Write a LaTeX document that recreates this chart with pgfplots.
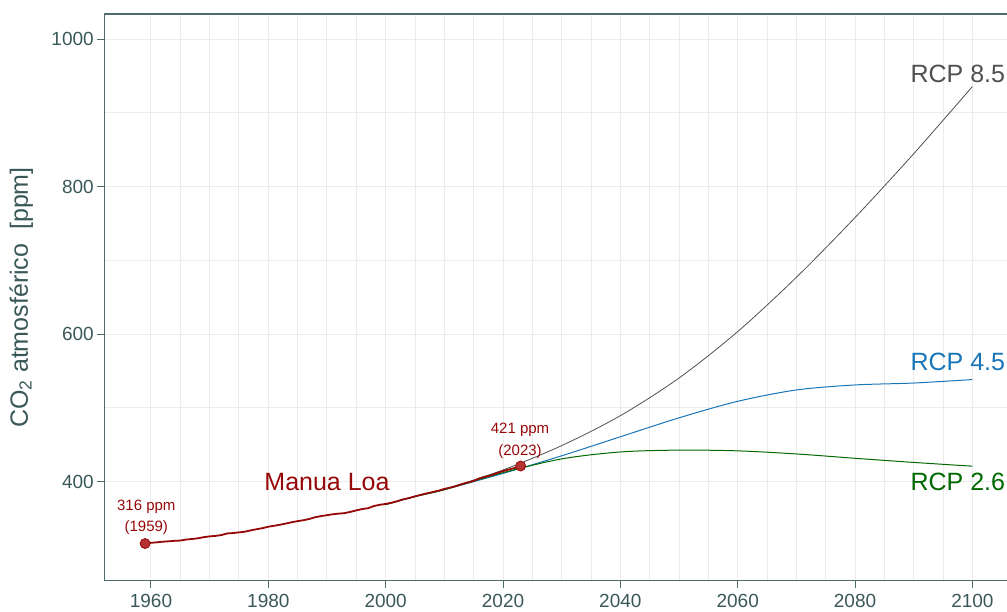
\documentclass[border=0pt]{standalone}
\usepackage{fontspec}
\setmainfont{Liberation Sans}
\usepackage{pgfplots}
\pgfplotsset{compat=1.18}
\definecolor{slate}{RGB}{58,88,88}
\definecolor{spine}{RGB}{78,108,108}
\definecolor{gridc}{RGB}{235,235,235}
\definecolor{mlred}{RGB}{150,8,8}
\definecolor{ptfill}{RGB}{180,50,50}
\definecolor{rcpgray}{RGB}{80,80,80}
\definecolor{rcpblue}{RGB}{24,118,184}
\definecolor{rcpgreen}{RGB}{0,104,0}

\pgfplotstableread{
year co2
1959 315.98
1960 316.91
1961 317.64
1962 318.45
1963 318.99
1964 319.62
1965 320.04
1966 321.37
1967 322.18
1968 323.05
1969 324.62
1970 325.68
1971 326.32
1972 327.46
1973 329.68
1974 330.19
1975 331.13
1976 332.03
1977 333.84
1978 335.41
1979 336.84
1980 338.76
1981 340.12
1982 341.48
1983 343.15
1984 344.87
1985 346.35
1986 347.61
1987 349.31
1988 351.69
1989 353.20
1990 354.45
1991 355.70
1992 356.54
1993 357.21
1994 358.96
1995 360.97
1996 362.74
1997 363.88
1998 366.84
1999 368.54
2000 369.71
2001 371.32
2002 373.45
2003 375.98
2004 377.70
2005 379.98
2006 382.09
2007 384.02
2008 385.83
2009 387.64
2010 390.10
2011 391.85
2012 394.06
2013 396.74
2014 398.81
2015 401.01
2016 404.41
2017 406.76
2018 408.72
2019 411.65
2020 414.21
2021 416.41
2022 418.53
2023 421.08
}\maunaloa

\pgfplotstableread{
year rcp85 rcp45 rcp26
2000 368.9 368.9 368.9
2005 379.8 379.8 379.8
2010 389.3 389.1 389.0
2020 415.8 411.1 412.1
2030 448.8 435.0 430.8
2040 489.4 460.8 440.2
2050 540.5 486.5 442.7
2060 603.5 508.9 441.7
2070 677.1 524.3 437.5
2080 758.2 531.1 431.6
2090 844.8 533.7 426.0
2100 935.9 538.4 420.9
}\rcp

\begin{document}
\begin{tikzpicture}
\begin{axis}[
  scale only axis,
  width=913pt,height=567pt,
  xmin=1952.04,xmax=2107.6,
  ymin=265.4,ymax=1034.3,
  xtick={1960,1980,...,2100},
  ytick={400,600,800,1000},
  minor x tick num=3,
  minor y tick num=1,
  grid=both,
  major grid style={gridc,line width=1pt},
  minor grid style={gridc,line width=1pt},
  axis line style={spine,line width=1.1pt},
  tick pos=left,
  tick align=outside,
  major tick length=7pt,
  minor tick length=0pt,
  major tick style={spine,line width=1pt},
  x tick label style={yshift=-3pt},
  ticklabel style={font=\fontsize{19}{21}\selectfont,text=slate},
  /pgf/number format/1000 sep={},
  /pgf/number format/assume math mode=true,
  ylabel={CO\textsubscript{2} atmosférico\ \ [ppm]},
  ylabel style={at={(axis description cs:-0.0908,0.5)},anchor=center,
    font=\fontsize{25}{28}\selectfont,text=slate},
  clip=false,
]
\addplot[rcpgray,line width=0.8pt,smooth] table[x=year,y=rcp85]{\rcp};
\addplot[rcpblue,line width=1pt,smooth] table[x=year,y=rcp45]{\rcp};
\addplot[rcpgreen,line width=1pt,smooth] table[x=year,y=rcp26]{\rcp};
\addplot[mlred,line width=1.8pt] table[x=year,y=co2]{\maunaloa};
\addplot[only marks,mark=*,mark size=5pt,
  mark options={fill=ptfill,draw=mlred,line width=0.8pt}]
  coordinates {(1959,315.98) (2023,421.08)};

\node[anchor=east,inner sep=0pt,text=rcpgray,font=\fontsize{25}{28}\selectfont] at (axis cs:2105.6,952.6) {RCP 8.5};
\node[anchor=east,inner sep=0pt,text=rcpblue,font=\fontsize{25}{28}\selectfont] at (axis cs:2105.6,562) {RCP 4.5};
\node[anchor=east,inner sep=0pt,text=rcpgreen,font=\fontsize{25}{28}\selectfont] at (axis cs:2105.6,399) {RCP 2.6};
\node[text=mlred,font=\fontsize{25}{28}\selectfont] at (axis cs:1990,399) {Manua Loa};
\node[text=mlred,font=\fontsize{15}{17}\selectfont] at (axis cs:1959.2,365.2) {316 ppm};
\node[text=mlred,font=\fontsize{15}{17}\selectfont] at (axis cs:1959.2,338) {(1959)};
\node[text=mlred,font=\fontsize{15}{17}\selectfont] at (axis cs:2022.9,470.8) {421 ppm};
\node[text=mlred,font=\fontsize{15}{17}\selectfont] at (axis cs:2022.9,441) {(2023)};
\end{axis}
\pgfresetboundingbox
\path[use as bounding box] ([xshift=-104.3pt,yshift=-30.3pt]current axis.south west)
  rectangle ([xshift=903pt,yshift=14pt]current axis.north west);
\end{tikzpicture}
\end{document}
